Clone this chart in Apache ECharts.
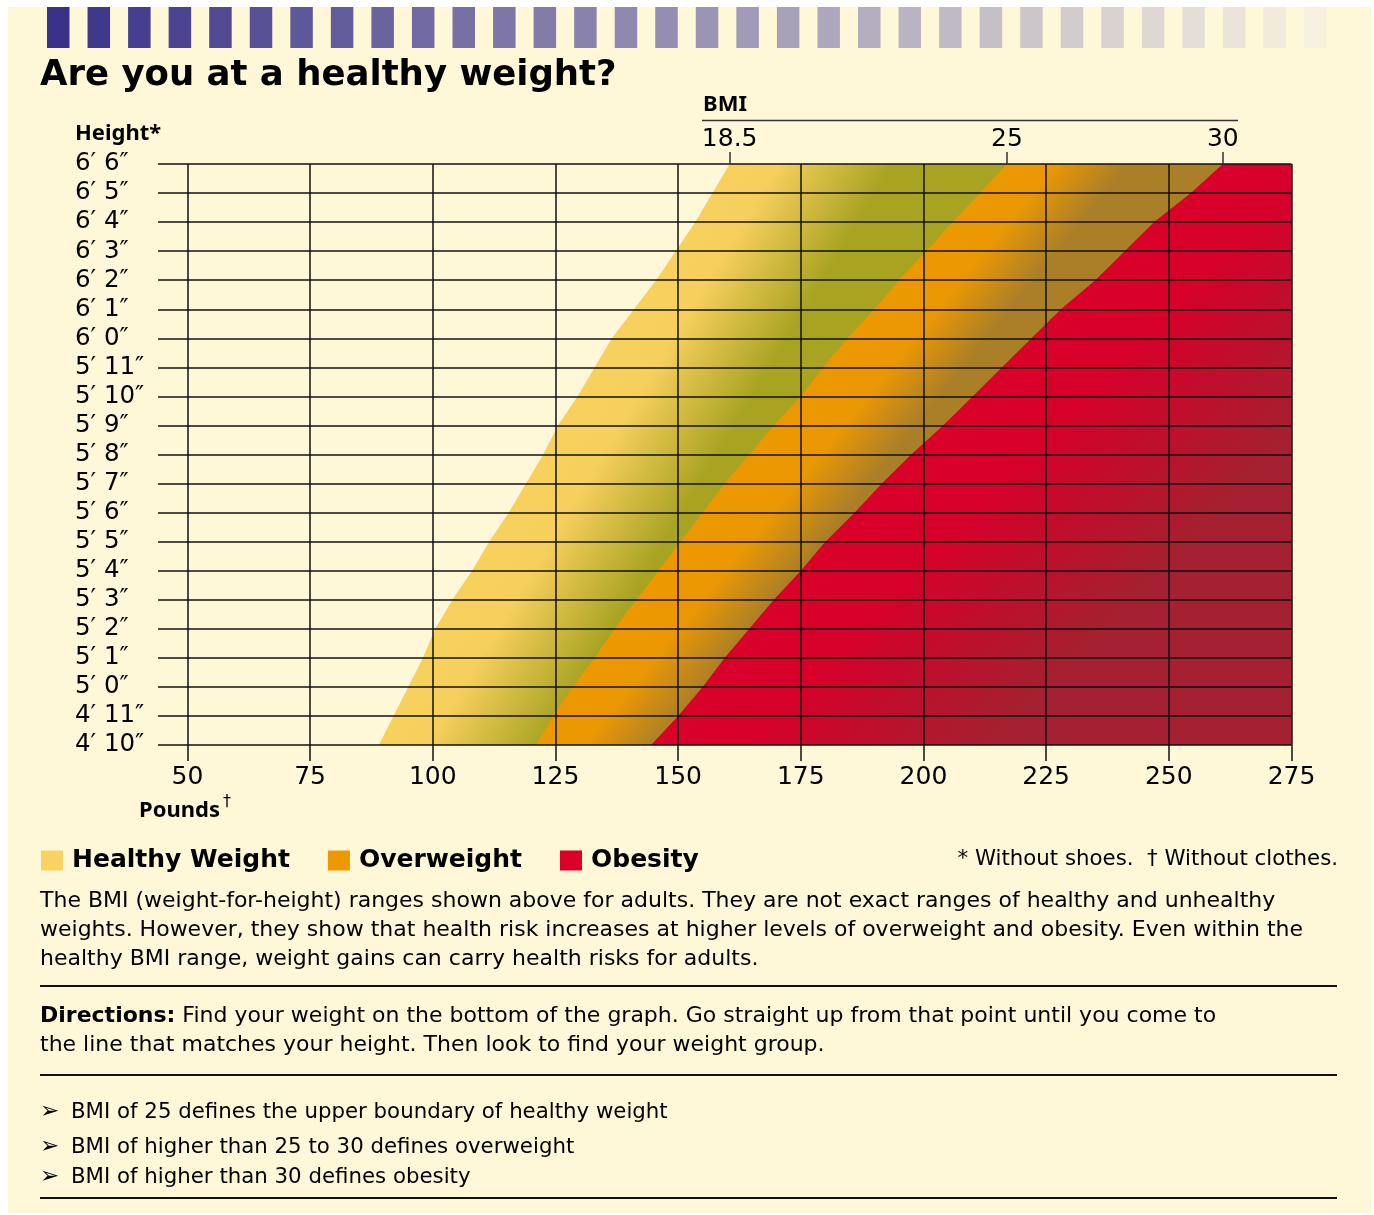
<!DOCTYPE html>
<html>
<head>
<meta charset="utf-8">
<title>Are you at a healthy weight?</title>
<script src="https://cdn.jsdelivr.net/npm/echarts@6/dist/echarts.min.js"></script>
<style>
  html, body { margin: 0; padding: 0; background: #fff; }
  #paper { position: absolute; left: 8px; top: 7px; width: 1363px; height: 1206px; background: #fff8d8; }
  #chart { position: absolute; left: 0; top: 0; width: 1374px; height: 1215px; }
</style>
</head>
<body>
<div id="paper"></div>
<div id="chart"></div>
<script>
// heights in inches, 4'10" up to 6'6"
const heights = [58, 59, 60, 61, 62, 63, 64, 65, 66, 67, 68, 69, 70, 71, 72, 73, 74, 75, 76, 77, 78];
const heightLabels = ['4′ 10″', '4′ 11″', '5′ 0″', '5′ 1″', '5′ 2″', '5′ 3″', '5′ 4″', '5′ 5″', '5′ 6″',
  '5′ 7″', '5′ 8″', '5′ 9″', '5′ 10″', '5′ 11″', '6′ 0″', '6′ 1″', '6′ 2″', '6′ 3″', '6′ 4″', '6′ 5″', '6′ 6″'];

// pounds where each band begins, one value per height
const healthyStart = [89, 92, 95, 98, 100.5, 104, 108, 111.5, 115.5, 119, 122.5, 125.5, 129.5, 133, 136.5, 141, 145.5, 149.5, 153.5, 157, 160.5];
const overweightStart = [121, 124.5, 128.5, 133, 137, 141.5, 146, 150.5, 155, 159.5, 164.5, 169.5, 175, 179.5, 184.5, 190, 195, 200.5, 206, 211.5, 217];
const obesityStart = [144.5, 150, 155, 159.5, 164.5, 169.5, 175, 180, 186, 191.5, 197.5, 204, 210, 216, 222, 228, 235, 241, 247, 254.5, 261];

const poundTicks = [50, 75, 100, 125, 150, 175, 200, 225, 250, 275];
const bmiLabels = ['18.5', '25', '30'];
const weightMin = 44;
const weightMax = 275;

// BMI ticks sit where each band edge meets the top line
const last = heights.length - 1;
const bmiWeights = [healthyStart[last], overweightStart[last], obesityStart[last]];

const body = '"DejaVu Sans", sans-serif';
const demi = '"Noto Sans", "DejaVu Sans", sans-serif';
const gridLine = { color: '#111', width: 1.5 };

// one polygon per band, gradient running across the band
function bandItem(starts, span, stops) {
  return function (params, api) {
    if (params.dataIndex !== 0) return null;
    const left = heights.map((h, i) => api.coord([starts[i], h]));
    const right = heights.map(h => api.coord([weightMax, h])).reverse();
    const p0 = left[0];
    const p1 = left[left.length - 1];
    const dx = p1[0] - p0[0];
    const dy = p1[1] - p0[1];
    const len = Math.sqrt(dx * dx + dy * dy);
    const nx = -dy / len;
    const ny = dx / len;
    const fill = new echarts.graphic.LinearGradient(
      p0[0], p0[1], p0[0] + nx * span, p0[1] + ny * span, stops, true);
    return {
      type: 'polygon',
      shape: { points: left.concat(right) },
      style: { fill: fill }
    };
  };
}

function band(name, starts, legendColor, span, stops) {
  return {
    name: name,
    type: 'custom',
    itemStyle: { color: legendColor },
    renderItem: bandItem(starts, span, stops),
    encode: { x: 0, y: 1 },
    data: heights.map((h, i) => [starts[i], h]),
    silent: true
  };
}

// the stripe of squares across the top
const squares = [];
for (let i = 0; i < 32; i++) {
  const t = i / 31;
  const r = Math.round(58 + (246 - 58) * t);
  const g = Math.round(50 + (241 - 50) * t);
  const b = Math.round(136 + (222 - 136) * t);
  squares.push({
    type: 'rect', silent: true,
    shape: { x: 47 + i * 40.55, y: 7, width: 22.5, height: 41 },
    style: { fill: 'rgb(' + r + ',' + g + ',' + b + ')' }
  });
}

function txt(x, y, text, font, align) {
  return {
    type: 'text', silent: true,
    style: {
      x: x, y: y, text: text, font: font, fill: '#000',
      align: align || 'left', verticalAlign: 'middle',
      textAlign: align || 'left', textVerticalAlign: 'middle'
    }
  };
}

function rule(y) {
  return {
    type: 'line', silent: true,
    shape: { x1: 40, y1: y, x2: 1337, y2: y },
    style: { stroke: '#111', lineWidth: 2.2 }
  };
}

const bodyFont = '22px ' + body;
const listFont = '21.3px ' + body;

const chart = echarts.init(document.getElementById('chart'));

chart.setOption({
  animation: false,
  legend: {
    left: 36,
    top: 843,
    itemWidth: 22,
    itemHeight: 20,
    itemGap: 38,
    icon: 'rect',
    selectedMode: false,
    textStyle: { fontFamily: body, fontWeight: 'bold', fontSize: 25, color: '#000', padding: [0, 0, 0, 4] },
    data: ['Healthy Weight', 'Overweight', 'Obesity']
  },
  grid: { left: 158, top: 164, width: 1133.5, height: 581, containLabel: false, outerBoundsMode: 'none' },
  xAxis: [
    {
      type: 'value',
      min: weightMin,
      max: weightMax,
      z: 5,
      axisLine: { show: false },
      axisTick: { customValues: poundTicks, length: 16, lineStyle: gridLine },
      axisLabel: { customValues: poundTicks, margin: 20, fontFamily: body, fontSize: 25, color: '#000' },
      splitLine: { show: true, lineStyle: gridLine }
    },
    {
      type: 'value',
      position: 'top',
      min: weightMin,
      max: weightMax,
      z: 5,
      axisLine: { show: false },
      splitLine: { show: false },
      axisTick: { customValues: bmiWeights, length: 12, lineStyle: { color: '#333', width: 1.5 } },
      axisLabel: {
        customValues: bmiWeights,
        margin: 12,
        fontFamily: body,
        fontSize: 25,
        color: '#000',
        formatter: v => {
          const i = bmiWeights.findIndex(w => Math.abs(w - v) < 0.01);
          return i < 0 ? '' : bmiLabels[i];
        }
      }
    }
  ],
  yAxis: {
    type: 'value',
    min: 58,
    max: 78,
    interval: 1,
    z: 5,
    axisLine: { show: false },
    axisTick: { show: false },
    axisLabel: {
      align: 'left',
      margin: 83,
      fontFamily: body,
      fontSize: 24.5,
      color: '#000',
      formatter: v => heightLabels[heights.indexOf(v)] || ''
    },
    splitLine: { show: true, lineStyle: gridLine }
  },
  series: [
    band('Healthy Weight', healthyStart, '#f8d362', 140,
      [{ offset: 0, color: '#f7d05e' }, { offset: 0.3, color: '#f6cf5c' }, { offset: 1, color: '#a9a322' }]),
    band('Overweight', overweightStart, '#ee9800', 95,
      [{ offset: 0, color: '#ec9800' }, { offset: 0.4, color: '#ea9704' }, { offset: 1, color: '#aa7f28' }]),
    band('Obesity', obesityStart, '#dc0028', 239,
      [{ offset: 0, color: '#d9002a' }, { offset: 0.27, color: '#d7002a' }, { offset: 0.6, color: '#c00e2c' }, { offset: 1, color: '#a52030' }])
  ],
  graphic: squares.concat([
    txt(40, 76, 'Are you at a healthy weight?', 'bold 35.5px ' + body),
    txt(703, 105, 'BMI', 'bold 22px ' + demi),
    {
      type: 'line', silent: true,
      shape: { x1: 702, y1: 120.5, x2: 1238, y2: 120.5 },
      style: { stroke: '#333', lineWidth: 1.4 }
    },
    txt(75, 134, 'Height*', 'bold 22px ' + demi),
    txt(139, 811, 'Pounds', 'bold 22px ' + demi),
    txt(223, 802, '†', '16px ' + body),
    txt(1338, 859, '* Without shoes.  † Without clothes.', listFont, 'right'),
    txt(40, 901, 'The BMI (weight-for-height) ranges shown above for adults. They are not exact ranges of healthy and unhealthy', bodyFont),
    txt(40, 930, 'weights. However, they show that health risk increases at higher levels of overweight and obesity. Even within the', bodyFont),
    txt(40, 959, 'healthy BMI range, weight gains can carry health risks for adults.', bodyFont),
    rule(986),
    {
      type: 'text', silent: true,
      style: {
        x: 40, y: 1016, font: bodyFont, fill: '#000',
        text: '{b|Directions:} Find your weight on the bottom of the graph. Go straight up from that point until you come to',
        verticalAlign: 'middle', textVerticalAlign: 'middle',
        rich: { b: { font: 'bold 22px ' + body, fill: '#000' } }
      }
    },
    txt(40, 1045, 'the line that matches your height. Then look to find your weight group.', bodyFont),
    rule(1075),
    txt(40, 1112, '➢', '23px ' + body),
    txt(71, 1112, 'BMI of 25 defines the upper boundary of healthy weight', listFont),
    txt(40, 1147, '➢', '23px ' + body),
    txt(71, 1147, 'BMI of higher than 25 to 30 defines overweight', listFont),
    txt(40, 1177, '➢', '23px ' + body),
    txt(71, 1177, 'BMI of higher than 30 defines obesity', listFont),
    rule(1198)
  ])
});
</script>
</body>
</html>
